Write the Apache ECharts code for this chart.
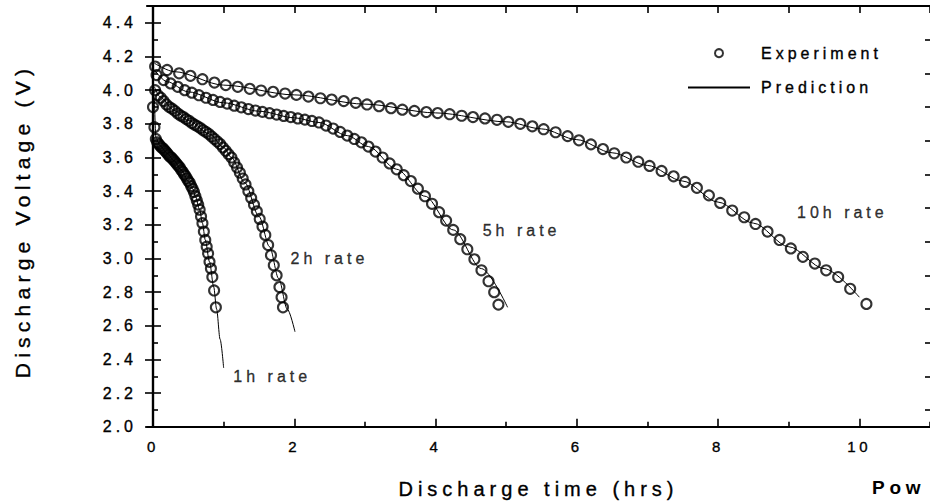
<!DOCTYPE html>
<html>
<head>
<meta charset="utf-8">
<script src="https://cdn.jsdelivr.net/npm/echarts@6/dist/echarts.min.js"></script>
<style>
  html, body { margin: 0; padding: 0; background: #fff; }
  #chart { width: 930px; height: 504px; }
  #chart text { letter-spacing: 0.25em; }
</style>
</head>
<body>
<div id="chart"></div>
<script>
// experiment points (time in hrs, voltage in V)
const time1h = [0.00, 0.02, 0.04, 0.06, 0.08, 0.10, 0.12, 0.14, 0.16, 0.18, 0.20, 0.22, 0.24, 0.26, 0.28, 0.30, 0.32, 0.34, 0.36, 0.38, 0.40, 0.42, 0.44, 0.46, 0.48, 0.50, 0.52, 0.54, 0.56, 0.58, 0.60, 0.62, 0.64, 0.66, 0.68, 0.70, 0.72, 0.74, 0.76, 0.78, 0.80, 0.82, 0.84, 0.865, 0.89]
const volt1h = [3.90, 3.78, 3.71, 3.69, 3.68, 3.67, 3.66, 3.655, 3.645, 3.635, 3.625, 3.615, 3.605, 3.60, 3.59, 3.58, 3.57, 3.56, 3.55, 3.54, 3.525, 3.515, 3.50, 3.49, 3.475, 3.46, 3.45, 3.43, 3.415, 3.395, 3.37, 3.345, 3.32, 3.29, 3.25, 3.21, 3.16, 3.11, 3.07, 3.03, 2.98, 2.94, 2.89, 2.81, 2.71]

const time2h = [0.03, 0.07, 0.11, 0.15, 0.19, 0.23, 0.27, 0.31, 0.35, 0.39, 0.43, 0.47, 0.51, 0.55, 0.59, 0.63, 0.67, 0.71, 0.75, 0.79, 0.83, 0.87, 0.91, 0.95, 0.99, 1.03, 1.07, 1.11, 1.15, 1.19, 1.23, 1.27, 1.31, 1.35, 1.39, 1.43, 1.47, 1.51, 1.55, 1.59, 1.63, 1.67, 1.71, 1.75, 1.79, 1.82, 1.84]
const volt2h = [4.00, 3.97, 3.955, 3.935, 3.915, 3.90, 3.89, 3.877, 3.862, 3.85, 3.84, 3.828, 3.818, 3.805, 3.795, 3.785, 3.775, 3.762, 3.752, 3.74, 3.725, 3.71, 3.695, 3.68, 3.66, 3.64, 3.62, 3.60, 3.57, 3.54, 3.51, 3.475, 3.44, 3.40, 3.36, 3.32, 3.28, 3.235, 3.19, 3.14, 3.08, 3.02, 2.96, 2.90, 2.83, 2.77, 2.71]

const time5h = [0.05, 0.15, 0.25, 0.35, 0.45, 0.55, 0.65, 0.75, 0.85, 0.95, 1.05, 1.15, 1.25, 1.35, 1.45, 1.55, 1.65, 1.75, 1.85, 1.95, 2.05, 2.15, 2.25, 2.35, 2.45, 2.55, 2.65, 2.75, 2.85, 2.95, 3.05, 3.15, 3.25, 3.35, 3.45, 3.55, 3.65, 3.75, 3.85, 3.95, 4.05, 4.15, 4.25, 4.35, 4.45, 4.55, 4.65, 4.75, 4.83, 4.89]
const volt5h = [4.09, 4.06, 4.04, 4.02, 4.00, 3.985, 3.97, 3.955, 3.942, 3.93, 3.92, 3.908, 3.898, 3.888, 3.879, 3.871, 3.863, 3.855, 3.847, 3.84, 3.832, 3.825, 3.817, 3.808, 3.79, 3.772, 3.752, 3.73, 3.71, 3.69, 3.665, 3.635, 3.60, 3.565, 3.53, 3.495, 3.46, 3.415, 3.37, 3.325, 3.275, 3.225, 3.17, 3.115, 3.055, 2.995, 2.93, 2.865, 2.80, 2.726]

const time10h = [0.03, 0.2, 0.37, 0.53, 0.7, 0.87, 1.03, 1.2, 1.37, 1.53, 1.7, 1.87, 2.03, 2.2, 2.37, 2.53, 2.7, 2.87, 3.03, 3.2, 3.37, 3.53, 3.7, 3.87, 4.03, 4.2, 4.37, 4.53, 4.7, 4.87, 5.03, 5.2, 5.37, 5.53, 5.7, 5.87, 6.03, 6.2, 6.37, 6.53, 6.7, 6.87, 7.03, 7.2, 7.37, 7.53, 7.7, 7.87, 8.03, 8.2, 8.37, 8.53, 8.7, 8.87, 9.03, 9.2, 9.37, 9.53, 9.7, 9.87, 10.1]
const volt10h = [4.14, 4.12, 4.10, 4.085, 4.065, 4.045, 4.03, 4.02, 4.008, 3.998, 3.99, 3.98, 3.972, 3.962, 3.952, 3.944, 3.935, 3.925, 3.915, 3.905, 3.893, 3.884, 3.877, 3.870, 3.864, 3.857, 3.848, 3.840, 3.832, 3.824, 3.812, 3.80, 3.785, 3.768, 3.75, 3.727, 3.702, 3.678, 3.65, 3.625, 3.60, 3.575, 3.55, 3.52, 3.488, 3.455, 3.42, 3.375, 3.33, 3.285, 3.245, 3.205, 3.16, 3.11, 3.06, 3.01, 2.97, 2.93, 2.89, 2.82, 2.73]

// model prediction curves
const predTime1h = [0.02, 0.04, 0.1, 0.2, 0.3, 0.4, 0.5, 0.56, 0.6, 0.66, 0.7, 0.74, 0.8, 0.86, 0.9, 0.95, 1.0]
const predVolt1h = [3.95, 3.72, 3.67, 3.625, 3.58, 3.525, 3.46, 3.415, 3.37, 3.29, 3.21, 3.11, 2.98, 2.83, 2.70, 2.52, 2.35]
const predTime2h = [0.02, 0.1, 0.3, 0.5, 0.8, 1.0, 1.11, 1.3, 1.5, 1.65, 1.78, 1.9, 2.01]
const predVolt2h = [4.02, 3.96, 3.88, 3.82, 3.74, 3.66, 3.60, 3.45, 3.25, 3.07, 2.88, 2.70, 2.565]
const predTime5h = [0.02, 0.2, 0.5, 1.0, 1.5, 2.0, 2.35, 2.75, 3.05, 3.45, 3.85, 4.25, 4.65, 5.02]
const predVolt5h = [4.12, 4.05, 3.99, 3.925, 3.875, 3.836, 3.808, 3.73, 3.665, 3.53, 3.37, 3.17, 2.94, 2.71]
const predTime10h = [0.02, 0.3, 1.0, 2.0, 3.0, 4.0, 5.0, 5.5, 6.0, 6.5, 7.0, 7.5, 8.0, 8.5, 9.0, 9.5, 10.0]
const predVolt10h = [4.16, 4.11, 4.03, 3.972, 3.917, 3.865, 3.812, 3.77, 3.706, 3.628, 3.553, 3.46, 3.335, 3.21, 3.07, 2.94, 2.77]

// curve annotations (anchor = left end of text)
const rateNames = ['1h rate', '2h rate', '5h rate', '10h rate']
const rateTime = [1.13, 1.94, 4.66, 9.11]
const rateVolt = [2.30, 3.0, 3.167, 3.274]

// ticks
const xMajorTicks = [0, 2, 4, 6, 8, 10]
const xMinorTicks = [1, 3, 5, 7, 9, 11]
const xTopTicks = [0, 1, 2, 3, 4, 5, 6, 7, 8, 9, 10, 11]
const yMajorTicks = [2.0, 2.2, 2.4, 2.6, 2.8, 3.0, 3.2, 3.4, 3.6, 3.8, 4.0, 4.2, 4.4]
const yMinorTicks = [2.1, 2.3, 2.5, 2.7, 2.9, 3.1, 3.3, 3.5, 3.7, 3.9, 4.1, 4.3, 4.5]

const X_MIN = -0.085
const X_MAX = 11
const Y_MIN = 2.0
const Y_MAX = 4.5
const FONT = '"Liberation Sans", Arial, sans-serif'
// scanned print looks a bit heavier than plain regular text
const INK = { color: '#000', textBorderColor: '#000', textBorderWidth: 0.35 }

const pairs = (xs, ys) => xs.slice(0, Math.min(xs.length, ys.length)).map((x, i) => [x, ys[i]])

const expSeries = (xs, ys) => ({
  name: 'Experiment',
  type: 'scatter',
  symbol: 'circle',
  symbolSize: 10,
  itemStyle: { color: 'rgba(0,0,0,0)', borderColor: '#000', borderWidth: 2.1 },
  data: pairs(xs, ys),
  z: 3
})

const predSeries = (xs, ys) => ({
  name: 'Prediction',
  type: 'line',
  symbol: 'none',
  showSymbol: false,
  smooth: 0.3,
  smoothMonotone: 'x',
  itemStyle: { color: '#000' },
  lineStyle: { color: '#000', width: 1 },
  data: pairs(xs, ys),
  z: 2
})

const xAxisBase = {
  type: 'value',
  min: X_MIN,
  max: X_MAX,
  splitLine: { show: false }
}
const yAxisBase = {
  type: 'value',
  min: Y_MIN,
  max: Y_MAX,
  splitLine: { show: false }
}
const tickStyle = { color: '#000', width: 1.6 }
const lineStyleAxis = { color: '#000', width: 2.2 }

const chart = echarts.init(document.getElementById('chart'), null, { renderer: 'svg' })

chart.setOption({
  animation: false,
  backgroundColor: '#fff',
  grid: { left: 147, right: -2, top: 6, bottom: 77, containLabel: false },
  legend: {
    orient: 'vertical',
    left: 682,
    top: 40,
    itemWidth: 62,
    itemHeight: 8,
    itemGap: 18,
    data: [
      { name: 'Experiment' },
      { name: 'Prediction', itemStyle: { opacity: 0 } }
    ],
    textStyle: { fontFamily: FONT, fontSize: 16, ...INK, padding: [0, 0, 0, 6] }
  },
  xAxis: [
    {
      ...xAxisBase,
      position: 'bottom',
      name: 'Discharge time (hrs)',
      nameLocation: 'middle',
      nameGap: 52,
      nameTextStyle: { fontFamily: FONT, fontSize: 20, ...INK },
      axisLine: { show: true, lineStyle: lineStyleAxis },
      axisTick: { show: true, inside: true, length: 8, customValues: xMajorTicks, lineStyle: tickStyle },
      axisLabel: { customValues: xMajorTicks, fontFamily: FONT, fontSize: 15, ...INK, margin: 12 }
    },
    {
      ...xAxisBase,
      position: 'bottom',
      axisLine: { show: false },
      axisTick: { show: true, inside: true, length: 5, customValues: xMinorTicks, lineStyle: tickStyle },
      axisLabel: { show: false }
    },
    {
      ...xAxisBase,
      position: 'top',
      axisLine: { show: true, lineStyle: lineStyleAxis },
      axisTick: { show: true, inside: true, length: 7, customValues: xTopTicks, lineStyle: tickStyle },
      axisLabel: { show: false }
    }
  ],
  yAxis: [
    {
      ...yAxisBase,
      position: 'left',
      axisLine: { show: true, lineStyle: lineStyleAxis },
      axisTick: { show: true, inside: true, length: 8, customValues: yMajorTicks, lineStyle: tickStyle },
      axisLabel: { customValues: yMajorTicks, formatter: v => v.toFixed(1), fontFamily: FONT, fontSize: 16, ...INK, margin: 10 }
    },
    {
      ...yAxisBase,
      position: 'left',
      axisLine: { show: false },
      axisTick: { show: true, inside: true, length: 5, customValues: yMinorTicks, lineStyle: tickStyle },
      axisLabel: { show: false }
    },
    {
      ...yAxisBase,
      position: 'right',
      axisLine: { show: true, lineStyle: lineStyleAxis },
      axisTick: { show: true, inside: true, length: 8, customValues: yMajorTicks, lineStyle: tickStyle },
      axisLabel: { show: false }
    },
    {
      ...yAxisBase,
      position: 'right',
      axisLine: { show: false },
      axisTick: { show: true, inside: true, length: 5, customValues: yMinorTicks, lineStyle: tickStyle },
      axisLabel: { show: false }
    }
  ],
  series: [
    predSeries(predTime1h, predVolt1h),
    predSeries(predTime2h, predVolt2h),
    predSeries(predTime5h, predVolt5h),
    predSeries(predTime10h, predVolt10h),
    expSeries(time1h, volt1h),
    expSeries(time2h, volt2h),
    expSeries(time5h, volt5h),
    expSeries(time10h, volt10h),
    {
      name: 'rate labels',
      type: 'scatter',
      symbol: 'circle',
      symbolSize: 1,
      itemStyle: { color: 'rgba(0,0,0,0)' },
      silent: true,
      data: rateNames.map((n, i) => ({ name: n, value: [rateTime[i], rateVolt[i]] })),
      label: {
        show: true,
        position: 'right',
        distance: 0,
        formatter: p => p.name,
        fontFamily: FONT,
        fontSize: 16,
        ...INK
      },
      z: 4
    }
  ],
  graphic: [
    {
      // y axis title, centred on the plot height
      type: 'text',
      x: 22,
      y: 221,
      rotation: Math.PI / 2,
      style: {
        text: 'Discharge Voltage (V)',
        fontFamily: FONT,
        fontSize: 21,
        fill: '#000',
        stroke: '#000',
        lineWidth: 0.35,
        align: 'center',
        verticalAlign: 'middle'
      }
    },
    {
      type: 'text',
      left: 872,
      top: 478,
      style: { text: 'Pow', fontFamily: FONT, fontSize: 19, fontWeight: 'bold', fill: '#000' }
    }
  ]
})
</script>
</body>
</html>
